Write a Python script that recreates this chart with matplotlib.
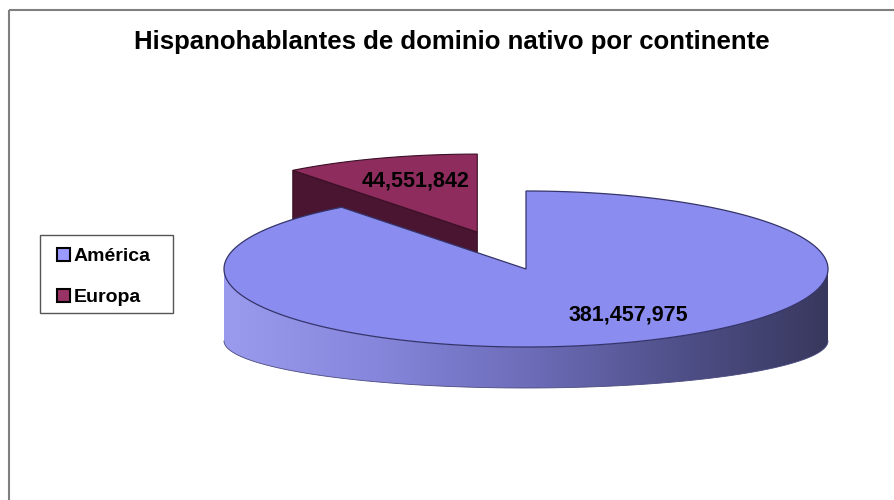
import numpy as np
import matplotlib
matplotlib.use('agg')
import matplotlib.pyplot as plt
from matplotlib.patches import Polygon, Patch, Rectangle
from matplotlib.colors import LinearSegmentedColormap

plt.rcParams['font.family'] = ['Liberation Sans', 'DejaVu Sans']

# data
continents = ["América", "Europa"]
speakers = [381457975, 44551842]
value_labels = ["381,457,975", "44,551,842"]
title = "Hispanohablantes de dominio nativo por continente"

top_colors = ["#8b8cef", "#8e2c5e"]
cut_color = "#4a1530"
edge_colors = ["#34346a", "#3a0f25"]

# pie geometry (pixels of the 895x500 canvas)
CX, CY = 526, 269      # centre of top face
A, B = 302, 78         # radii of top face
CY2, B2 = 341, 47      # centre / vertical radius of the bottom outline
EXPLODE = 0.5


def top_pt(t, dx=0, dy=0):
    t = np.radians(t)
    return np.column_stack([CX + dx + A * np.cos(t), CY + dy - B * np.sin(t)])


def bot_pt(t, dx=0, dy=0):
    t = np.radians(t)
    return np.column_stack([CX + dx + A * np.cos(t), CY2 + dy - B2 * np.sin(t)])


fig = plt.figure(figsize=(8.95, 5), dpi=100)
ax = fig.add_axes([0, 0, 1, 1])
ax.set_axis_off()

total = float(sum(speakers))
frac = [v / total for v in speakers]
# America runs clockwise from 12 o'clock, Europa fills the rest
eu_start, eu_end = 90.0, 90.0 + 360 * frac[1]
am_start, am_end = eu_end, 450.0

# Europa exploded along its bisector
mid = np.radians((eu_start + eu_end) / 2)
edx = EXPLODE * A * np.cos(mid)
edy = -EXPLODE * B * np.sin(mid)

# Europa cut face (radial side at eu_end)
p_top_rim = top_pt([eu_end], edx, edy)[0]
p_bot_rim = bot_pt([eu_end], edx, edy)[0]
apex_top = (CX + edx, CY + edy)
apex_bot = (CX + edx, CY2 + edy)
ax.add_patch(Polygon([apex_top, p_top_rim, p_bot_rim, apex_bot], closed=True,
                     facecolor=cut_color, edgecolor=edge_colors[1], lw=0.8, zorder=1))

# Europa top face
arc = top_pt(np.linspace(eu_start, eu_end, 60), edx, edy)
ax.add_patch(Polygon(np.vstack([[apex_top], arc]), closed=True,
                     facecolor=top_colors[1], edgecolor=edge_colors[1], lw=0.8, zorder=2))

# America side wall (front half) with horizontal shading
ts = np.linspace(180, 360, 120)
wall = np.vstack([top_pt(ts), bot_pt(ts[::-1])])
wall_patch = Polygon(wall, closed=True, facecolor='none', edgecolor='none', zorder=3)
ax.add_patch(wall_patch)
cmap = LinearSegmentedColormap.from_list(
    "wall", ["#9a9aee", "#8686dc", "#6d6dba", "#50508a", "#38385e"])
grad = np.linspace(0, 1, 256).reshape(1, -1)
im = ax.imshow(grad, cmap=cmap, aspect='auto', zorder=3,
               extent=(CX - A, CX + A, CY2 + B2 + 2, CY - 2))
im.set_clip_path(wall_patch)
ax.plot(bot_pt(ts)[:, 0], bot_pt(ts)[:, 1], color="#4a4a80", lw=0.6, zorder=3.5)

# America top face
arc = top_pt(np.linspace(am_start, am_end, 300))
ax.add_patch(Polygon(np.vstack([[(CX, CY)], arc]), closed=True,
                     facecolor=top_colors[0], edgecolor=edge_colors[0], lw=0.9, zorder=4))

# value labels
ax.text(628, 315, value_labels[0], ha='center', va='center',
        fontsize=15.5, fontweight='bold', zorder=6)
ax.text(416, 181, value_labels[1], ha='center', va='center',
        fontsize=15.5, fontweight='bold', zorder=6)

# title
ax.text(452, 42, title, ha='center', va='center', fontsize=18.5, fontweight='bold')

# chart frame and legend box
ax.add_patch(Rectangle((9, 10), 900, 500, facecolor='none', edgecolor='#7f7f7f',
                       lw=1.5, zorder=0))
ax.add_patch(Rectangle((40, 235), 133, 78, facecolor='white', edgecolor='#555555',
                       lw=1.0, zorder=5))

ax.set_xlim(0, 895)
ax.set_ylim(500, 0)

handles = [Patch(facecolor=c, edgecolor='black', lw=1.5) for c in ["#9999ff", "#993366"]]
leg = fig.legend(handles, continents, loc='upper left',
                 bbox_to_anchor=(57 / 895, 1 - 248 / 500),
                 frameon=False, prop={'weight': 'bold', 'size': 14},
                 handlelength=0.65, handleheight=0.65, handletextpad=0.2,
                 labelspacing=1.2, borderpad=0, borderaxespad=0)

fig.savefig("out.png", dpi=100)
